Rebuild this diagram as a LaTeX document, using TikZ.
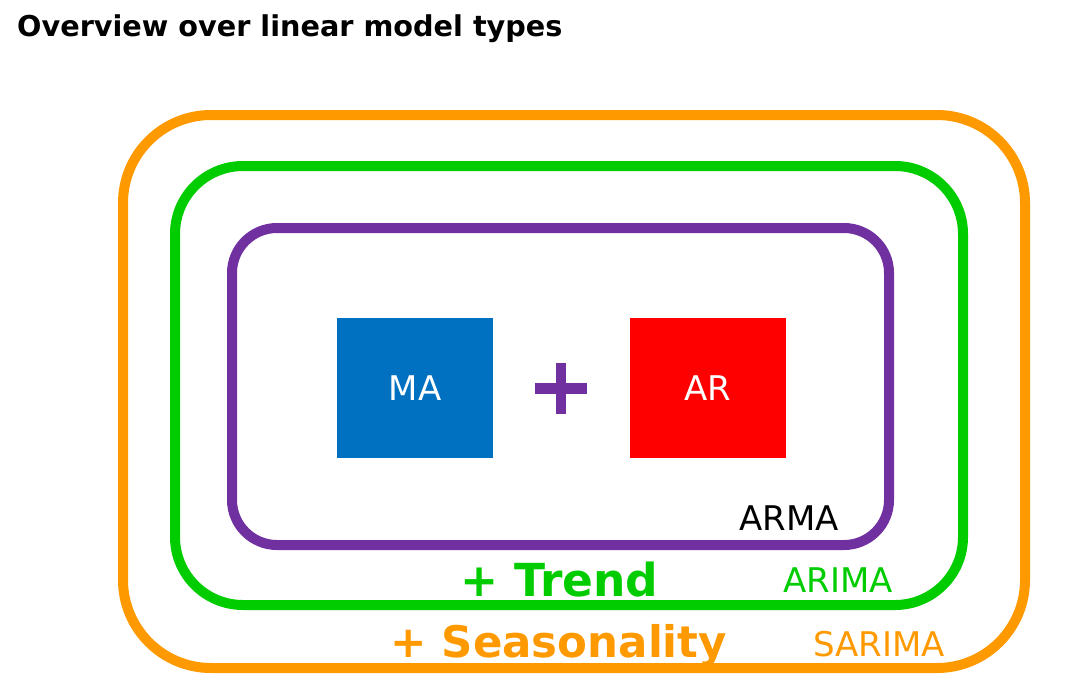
\documentclass[tikz,border=0pt]{standalone}
\usepackage{fontspec}
\setmainfont{DejaVu Sans}
\definecolor{SeasonOrange}{HTML}{FF9900}
\definecolor{TrendGreen}{HTML}{00CC00}
\definecolor{ArmaPurple}{HTML}{7030A0}
\definecolor{MaBlue}{HTML}{0070C0}
\definecolor{ArRed}{HTML}{FF0000}
\begin{document}
\begin{tikzpicture}[x=1pt,y=-1pt,
  ring/.style={line width=10pt},
  modelbox/.style={rectangle,minimum width=156pt,minimum height=140pt,inner sep=0pt,text=white,font=\fontsize{34}{40}\selectfont},
  tag/.style={anchor=base east,inner sep=0pt,font=\fontsize{34}{40}\selectfont},
  addon/.style={anchor=base west,inner sep=0pt,font=\bfseries\fontsize{#1}{50}\selectfont},
  addon/.default=43.5]
\useasboundingbox (0,0) rectangle (1067,688);
\node[anchor=base west,inner sep=0pt,font=\bfseries\fontsize{28.7}{34}\selectfont] (Title) at (17,36) {Overview over linear model types};
\draw[ring,SeasonOrange,rounded corners=88pt] (123,115) rectangle (1025,668);
\draw[ring,TrendGreen,rounded corners=68pt] (175,166) rectangle (963,605);
\draw[ring,ArmaPurple,rounded corners=45pt] (232,228) rectangle (889,545);
\node[modelbox,fill=MaBlue] (MA) at (415,388) {MA};
\node[modelbox,fill=ArRed] (AR) at (707.5,388) {AR};
\coordinate (PlusMid) at (561,388.5);
\draw[ArmaPurple,line width=10.5pt] ([xshift=-26pt]PlusMid) -- ([xshift=26pt]PlusMid);
\draw[ArmaPurple,line width=10.5pt] ([yshift=25.5pt]PlusMid) -- ([yshift=-25.5pt]PlusMid);
\node[tag] (ARMA) at (839,530) {ARMA};
\node[addon=45.5,text=TrendGreen] (Trend) at (460,596) {+ Trend};
\node[tag,text=TrendGreen] (ARIMA) at (893,592) {ARIMA};
\node[addon,text=SeasonOrange] (Seasonality) at (390,657) {+ Seasonality};
\node[tag,text=SeasonOrange] (SARIMA) at (945,656) {SARIMA};
\end{tikzpicture}
\end{document}
